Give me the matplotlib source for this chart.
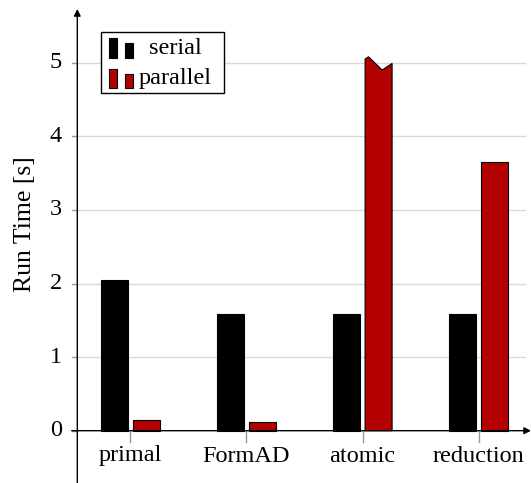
import matplotlib
matplotlib.use("Agg")
import matplotlib.pyplot as plt
from matplotlib.patches import Rectangle, Polygon

# run times in seconds
categories = ["primal", "FormAD", "atomic", "reduction"]
serial = [2.05, 1.585, 1.585, 1.585]
parallel = [0.15, 0.12, 6.0, 3.65]   # atomic parallel runs off the scale
series_names = ["serial", "parallel"]
series_colors = ["#000000", "#b30000"]
yticks = [0, 1, 2, 3, 4, 5]

W, H = 531, 483
plt.rcParams["font.family"] = ["Liberation Serif", "DejaVu Serif"]
FS = 17.5

fig = plt.figure(figsize=(W / 100, H / 100), dpi=100)
ax = fig.add_axes([0, 0, 1, 1])
ax.set_axis_off()

# data <-> pixel layout (x: 116.3 px per category, y: 73.6 px per second)
x0_px, xstep = 130.0, 116.3
y0_px, ystep = 430.7, 73.6
ax.set_xlim((0 - x0_px) / xstep, (W - x0_px) / xstep)
ax.set_ylim((y0_px - H) / ystep, y0_px / ystep)

def dx(px):
    return (px - x0_px) / xstep

def dy(py):
    return (y0_px - py) / ystep

xmin, xmax = dx(77.3), dx(525)
ymax_clip = 5.0
bar_w = 27 / xstep
shift = 16 / xstep

# grid
for t in yticks[1:]:
    ax.plot([xmin, xmax], [t, t], color="#d9d9d9", lw=1.0, zorder=1)

# bars
for i, cat in enumerate(categories):
    for vals, off, col in ((serial, -shift, series_colors[0]),
                           (parallel, shift, series_colors[1])):
        v = vals[i]
        left = i + off - bar_w / 2
        if v <= ymax_clip:
            ax.add_patch(Rectangle((left, 0), bar_w, v, facecolor=col,
                                   edgecolor="black", lw=0.8, zorder=3))
        else:
            # torn top for a bar that leaves the plot
            pts = [(left, 0), (left, ymax_clip + 0.05),
                   (left + 0.13 * bar_w, ymax_clip + 0.08),
                   (left + 0.63 * bar_w, ymax_clip - 0.10),
                   (left + bar_w, ymax_clip - 0.01), (left + bar_w, 0)]
            ax.add_patch(Polygon(pts, closed=True, facecolor=col,
                                 edgecolor="black", lw=0.8, zorder=3))

# axis lines with arrows
ax.annotate("", xy=(dx(531), 0), xytext=(dx(71.7), 0),
            arrowprops=dict(arrowstyle="-|>", color="black", lw=1.0,
                            mutation_scale=10, shrinkA=0, shrinkB=0), zorder=5)
ax.annotate("", xy=(xmin, dy(9)), xytext=(xmin, dy(H)),
            arrowprops=dict(arrowstyle="-|>", color="black", lw=1.0,
                            mutation_scale=10, shrinkA=0, shrinkB=0), zorder=5)

# ticks and tick labels
for t in yticks:
    ax.plot([dx(71.7), xmin], [t, t], color="#999999", lw=1.0, zorder=4)
    ax.text(dx(62), t, str(t), ha="right", va="center", fontsize=FS)
for i, cat in enumerate(categories):
    ax.plot([i, i], [0, dy(442)], color="#999999", lw=1.0, zorder=4)
    ax.text(i, dy(456), cat, ha="center", va="center", fontsize=FS)

ax.text(dx(25), dy(224), "Run Time [s]", rotation=90, ha="center",
        va="center", fontsize=18.5)

# legend
def fx(px):
    return px / W

def fy(py):
    return 1 - py / H

fig.patches.append(Rectangle((fx(100.7), fy(92.7)), (224.3 - 100.7) / W,
                             (92.7 - 32.3) / H, transform=fig.transFigure,
                             facecolor="white", edgecolor="black", lw=1.0,
                             zorder=6))
for k, (name, col) in enumerate(zip(series_names, series_colors)):
    base = 57.7 + 30.5 * k
    for left, top in ((108.5, 38.3), (124.7, 43.3)):
        top = top + 30.5 * k
        fig.patches.append(Rectangle((fx(left), fy(base)), 8.2 / W,
                                     (base - top) / H,
                                     transform=fig.transFigure, facecolor=col,
                                     edgecolor="black", lw=0.8, zorder=7))
    fig.text(fx(175), fy(48 + 30.5 * k), name, ha="center", va="center",
             fontsize=FS, zorder=8)

fig.savefig("out.png", dpi=100)
